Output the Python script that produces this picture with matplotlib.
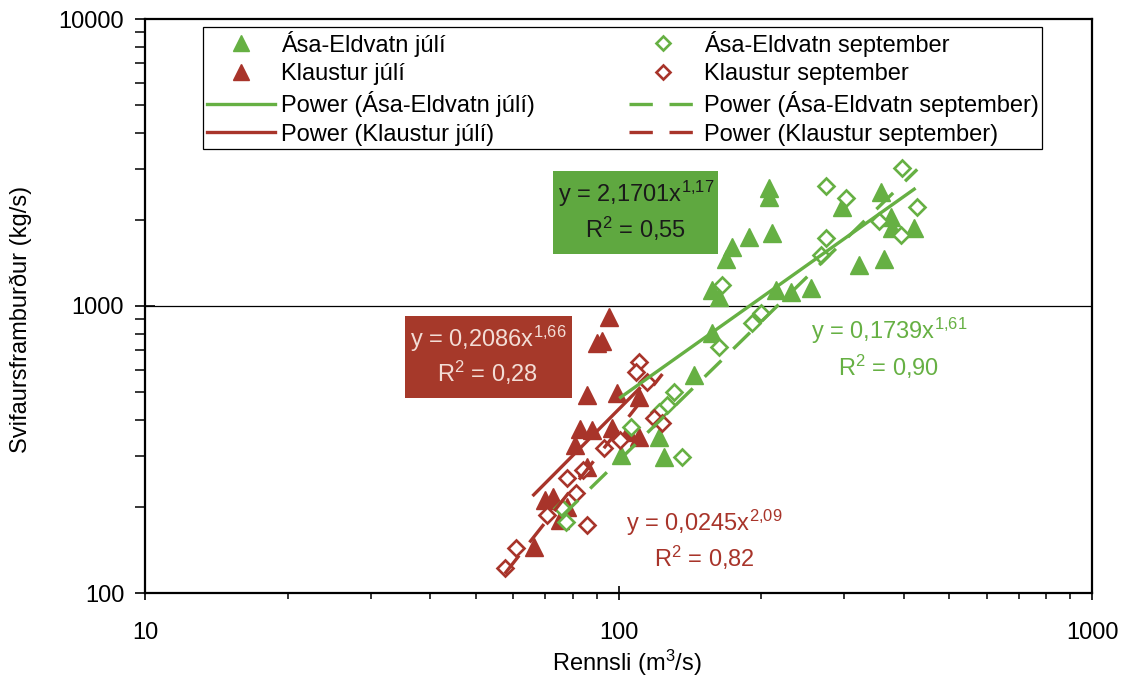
import matplotlib
matplotlib.use("Agg")
import matplotlib.pyplot as plt
from matplotlib.patches import Rectangle
from matplotlib.ticker import LogLocator, FixedLocator, NullFormatter, FuncFormatter
import numpy as np

plt.rcParams['font.family'] = ['Liberation Sans', 'DejaVu Sans']
plt.rcParams['mathtext.fontset'] = 'custom'
plt.rcParams['mathtext.rm'] = 'Liberation Sans'
plt.rcParams['mathtext.it'] = 'Liberation Sans:italic'
plt.rcParams['mathtext.bf'] = 'Liberation Sans:bold'

# Rennsli (m3/s) og svifaursframburður (kg/s)
asa_juli_q = [208.2, 208.2, 358.8, 296.9, 376.7, 378.5, 421.2, 189.0, 211.3, 174.0,
              169.0, 322.4, 364.1, 157.9, 215.4, 231.7, 255.3, 163.4, 157.9, 144.7,
              122.0, 101.0, 125.0]
asa_juli_s = [2577, 2398, 2496, 2213, 2043, 1870, 1870, 1740, 1797, 1605,
              1458, 1390, 1458, 1137, 1137, 1119, 1155, 1075, 805, 575,
              350, 303, 298]

klaustur_juli_q = [95.7, 89.9, 92.5, 85.6, 99.5, 110.7, 82.8, 88.1, 97.1, 104.5,
                   110.7, 85.6, 77.7, 75.1, 72.6, 69.8, 66.2, 80.8]
klaustur_juli_s = [915, 743, 755, 490, 498, 482, 373, 369, 375, 364,
                   350, 275, 199, 180, 216, 211, 145, 328]

asa_sept_q = [397.4, 274.8, 302.7, 427.4, 355.3, 395.4, 274.8, 268.1, 165.8, 200.3,
              191.8, 163.4, 131.3, 126.3, 122.0, 106.5, 136.5, 75.8, 77.3]
asa_sept_s = [3026, 2619, 2379, 2213, 1978, 1768, 1726, 1505, 1184, 945,
              873, 720, 502, 452, 427, 379, 298, 198, 177]

klaustur_sept_q = [110.7, 109.1, 114.6, 119.1, 123.8, 93.4, 100.5, 81.2, 85.6, 84.0,
                   78.0, 60.6, 57.5, 70.8]
klaustur_sept_s = [638, 589, 544, 407, 391, 320, 341, 223, 173, 268,
                   252, 143, 122, 187]

# Power trend coefficients: y = a * x^b, with R^2
asa_juli_fit = (2.1701, 1.17, 0.55)
klaustur_juli_fit = (0.2086, 1.66, 0.28)
asa_sept_fit = (0.1739, 1.61, 0.90)
klaustur_sept_fit = (0.0245, 2.09, 0.82)

GREEN = '#66b043'
RED = '#a8342a'
FS = 17

W, H = 1126, 682
fig = plt.figure(figsize=(W / 100, H / 100), dpi=100)
ax = fig.add_axes([145 / W, 1 - 593 / H, (1092 - 145) / W, (593 - 19) / H])
ax.set_xscale('log')
ax.set_yscale('log')
ax.set_xlim(10, 1000)
ax.set_ylim(100, 10000)


def trend(q, fit):
    a, b, _ = fit
    xs = np.logspace(np.log10(min(q)), np.log10(max(q)), 50)
    return xs, a * xs ** b


ms_tri = 12.5
ms_dia = 8
h1, = ax.plot(asa_juli_q, asa_juli_s, ls='none', marker='^', ms=ms_tri,
              mfc=GREEN, mec=GREEN, zorder=3)
h2, = ax.plot(klaustur_juli_q, klaustur_juli_s, ls='none', marker='^', ms=ms_tri,
              mfc=RED, mec=RED, zorder=3)
h5, = ax.plot(asa_sept_q, asa_sept_s, ls='none', marker='D', ms=ms_dia,
              mfc='white', mec=GREEN, mew=1.9, zorder=3)
h6, = ax.plot(klaustur_sept_q, klaustur_sept_s, ls='none', marker='D', ms=ms_dia,
              mfc='white', mec=RED, mew=1.9, zorder=3)

lw = 2.4
dash = (7, 5)
h3, = ax.plot(*trend(asa_juli_q, asa_juli_fit), color=GREEN, lw=lw, zorder=4)
h4, = ax.plot(*trend(klaustur_juli_q, klaustur_juli_fit), color=RED, lw=lw, zorder=4)
h7, = ax.plot(*trend(asa_sept_q, asa_sept_fit), color=GREEN, lw=lw, zorder=4,
              dashes=dash)
h8, = ax.plot(*trend(klaustur_sept_q, klaustur_sept_fit), color=RED, lw=lw, zorder=4,
              dashes=dash)

# axes styling
for sp in ax.spines.values():
    sp.set_linewidth(1.6)
    sp.set_color('black')
ax.axhline(1000, color='black', lw=0.9, zorder=1)

ax.xaxis.set_major_locator(FixedLocator([10, 100, 1000]))
ax.yaxis.set_major_locator(FixedLocator([100, 1000, 10000]))
ax.xaxis.set_minor_locator(LogLocator(base=10, subs=np.arange(2, 10)))
ax.yaxis.set_minor_locator(LogLocator(base=10, subs=np.arange(2, 10)))
ax.xaxis.set_minor_formatter(NullFormatter())
ax.yaxis.set_minor_formatter(NullFormatter())
fmt = FuncFormatter(lambda v, p: f'{int(round(v))}')
ax.xaxis.set_major_formatter(fmt)
ax.yaxis.set_major_formatter(fmt)
ax.tick_params(axis='x', which='major', direction='inout', length=10, width=1.2,
               labelsize=FS, pad=16)
ax.tick_params(axis='x', which='minor', direction='out', length=4, width=1.1)
ax.tick_params(axis='y', which='major', direction='inout', length=14, width=1.2,
               labelsize=FS, pad=8)
ax.tick_params(axis='y', which='minor', direction='out', length=7, width=1.1)

ax.set_xlabel('Rennsli (m$^3$/s)', fontsize=FS)
ax.set_ylabel('Svifaursframburður (kg/s)', fontsize=FS)
ax.xaxis.set_label_coords(0.509, -0.095)
ax.yaxis.set_label_coords(-0.119, 0.476)

# legend
handles = [h1, h2, h3, h4, h5, h6, h7, h8]
labels = ['Ása-Eldvatn júlí', 'Klaustur júlí', 'Power (Ása-Eldvatn júlí)',
          'Power (Klaustur júlí)', 'Ása-Eldvatn september', 'Klaustur september',
          'Power (Ása-Eldvatn september)', 'Power (Klaustur september)']
x0 = (203 - 145) / 947
y1 = (593 - 27) / 574
leg = ax.legend(handles, labels, ncol=2, loc='upper left',
                bbox_to_anchor=(x0, y1), fontsize=FS, frameon=True,
                fancybox=False, edgecolor='black', framealpha=1,
                borderaxespad=0, handlelength=2.9, handletextpad=0.25,
                columnspacing=4.0, labelspacing=0.27, borderpad=0.15,
                markerscale=0.95)
leg.get_frame().set_linewidth(0.9)
leg.set_zorder(5)


def eq_text(fit):
    a, b, r2 = fit
    a_s = f'{a:.4f}'.replace('.', ',')
    b_s = f'{b:.2f}'.replace('.', '{,}')
    r_s = f'{r2:.2f}'.replace('.', ',')
    return f'y = {a_s}x$^{{{b_s}}}$', f'R$^2$ = {r_s}'


def fig_box(x0p, y0p, x1p, y1p, color):
    fig.patches.append(Rectangle((x0p / W, 1 - y1p / H), (x1p - x0p) / W,
                                 (y1p - y0p) / H, transform=fig.transFigure,
                                 facecolor=color, edgecolor='none', zorder=6))


def fig_text(xp, yp, s, color):
    fig.text(xp / W, 1 - yp / H, s, ha='center', va='center', fontsize=FS,
             color=color, zorder=7)


# Ása-Eldvatn júlí label box
fig_box(553, 171, 718, 254, '#5fa840')
l1, l2 = eq_text(asa_juli_fit)
fig_text(636, 194, l1, '#1a1a1a')
fig_text(636, 229, l2, '#1a1a1a')

# Klaustur júlí label box
fig_box(405, 316, 572, 398, '#a6392a')
l1, l2 = eq_text(klaustur_juli_fit)
fig_text(488, 339, l1, '#f3ddd6')
fig_text(488, 373, l2, '#f3ddd6')

# Ása-Eldvatn september
l1, l2 = eq_text(asa_sept_fit)
fig_text(889, 331, l1, GREEN)
fig_text(889, 367, l2, GREEN)

# Klaustur september
l1, l2 = eq_text(klaustur_sept_fit)
fig_text(704, 523, l1, RED)
fig_text(704, 558, l2, RED)

fig.savefig('out.png', dpi=100)
